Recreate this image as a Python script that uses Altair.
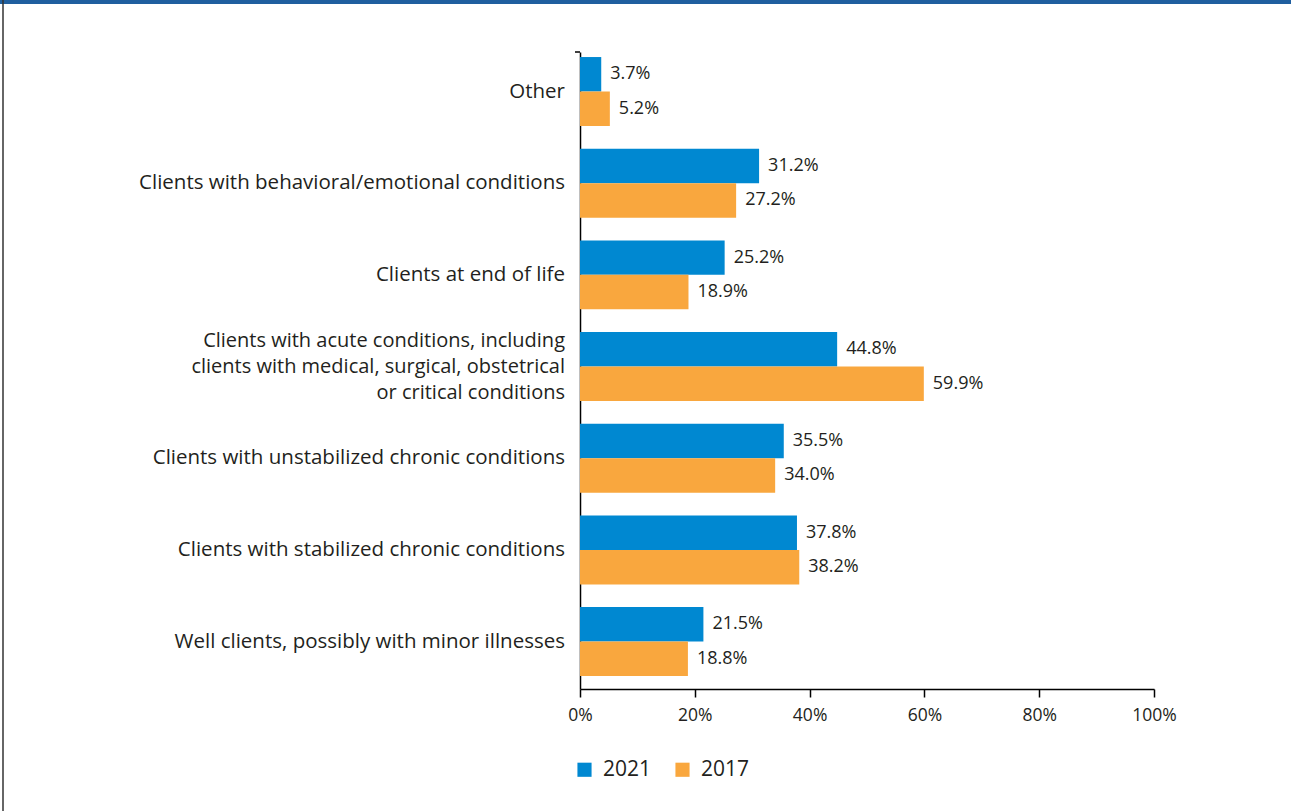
import altair as alt
import pandas as pd

categories = [
    "Other",
    "Clients with behavioral/emotional conditions",
    "Clients at end of life",
    "Clients with acute conditions, including|clients with medical, surgical, obstetrical|or critical conditions",
    "Clients with unstabilized chronic conditions",
    "Clients with stabilized chronic conditions",
    "Well clients, possibly with minor illnesses",
]
values_2021 = [3.7, 31.2, 25.2, 44.8, 35.5, 37.8, 21.5]
values_2017 = [5.2, 27.2, 18.9, 59.9, 34.0, 38.2, 18.8]
years = ["2021", "2017"]
x_ticks = [0, 20, 40, 60, 80, 100]

rows = []
for c, a, b in zip(categories, values_2021, values_2017):
    rows.append({"cat": c, "year": "2021", "value": a})
    rows.append({"cat": c, "year": "2017", "value": b})
df = pd.DataFrame(rows)
cat_df = pd.DataFrame({"cat": categories, "nlines": [c.count("|") + 1 for c in categories]})

FONT = "Open Sans"
TXT = "#231f20"
color_scale = alt.Scale(domain=years, range=["#0088d1", "#f9a73e"])
y_scale = alt.Scale(paddingInner=0.248, paddingOuter=0.098, align=0.28)

y_enc = alt.Y(
    "cat:N",
    sort=categories,
    scale=y_scale,
    axis=alt.Axis(
        title=None,
        labels=False,
        ticks=False,
        domainColor="#000000",
        domainWidth=1.5,
    ),
)
yoff = alt.YOffset("year:N", sort=years)

bars = alt.Chart(df).mark_bar().encode(
    x=alt.X(
        "value:Q",
        scale=alt.Scale(domain=[0, 100], nice=False),
        axis=alt.Axis(
            title=None,
            values=x_ticks,
            labelExpr="datum.value + '%'",
            labelFlush=False,
            labelFontSize=17.5,
            labelFont=FONT,
            labelColor=TXT,
            labelPadding=9,
            tickSize=8,
            tickColor="#000000",
            tickWidth=1.5,
            domainColor="#000000",
            domainWidth=1.5,
            grid=False,
        ),
    ),
    y=y_enc,
    yOffset=yoff,
    color=alt.Color(
        "year:N",
        scale=color_scale,
        sort=years,
        legend=alt.Legend(
            title=None,
            orient="none",
            direction="horizontal",
            legendX=-6,
            legendY=707,
            symbolType="square",
            symbolSize=200,
            symbolStrokeWidth=0,
            labelFontSize=21,
            labelFont=FONT,
            labelColor=TXT,
            columnPadding=20,
            labelOffset=8,
        ),
    ),
)

labels = alt.Chart(df).transform_calculate(
    lbl="format(datum.value, '.1f') + '%'"
).mark_text(
    align="left", baseline="middle", dx=9, fontSize=18, font=FONT, color=TXT
).encode(
    x="value:Q",
    y=alt.Y("cat:N", sort=categories),
    yOffset=yoff,
    text="lbl:N",
)

cat_base = alt.Chart(cat_df).encode(
    x=alt.value(-15),
    y=alt.Y("cat:N", sort=categories),
    text="cat:N",
)
cat_single = cat_base.transform_filter("datum.nlines == 1").mark_text(
    align="right", baseline="middle", fontSize=20.5, font=FONT, color=TXT
)
cat_multi = cat_base.transform_filter("datum.nlines == 3").mark_text(
    align="right", baseline="middle", fontSize=20, font=FONT, color=TXT,
    lineBreak="|", lineHeight=26, dy=-26
)

topband = alt.Chart(pd.DataFrame({"a": [0]})).mark_rule(
    color="#1f5f9f", strokeWidth=4, clip=False
).encode(x=alt.value(-580), x2=alt.value(711), y=alt.value(-50))
leftline = alt.Chart(pd.DataFrame({"a": [0]})).mark_rule(
    color="#333333", strokeWidth=1.5, clip=False
).encode(x=alt.value(-577), y=alt.value(-52), y2=alt.value(759))
toptick = alt.Chart(pd.DataFrame({"a": [0]})).mark_rule(
    color="#000000", strokeWidth=1.5, clip=False
).encode(x=alt.value(-5), x2=alt.value(0), y=alt.value(0))

chart = (
    alt.layer(topband, leftline, bars, labels, cat_single, cat_multi, toptick)
    .properties(
        width=574,
        height=637,
        autosize=alt.AutoSizeParams(type="none"),
        padding={"left": 580, "top": 52, "right": 137, "bottom": 122},
        background="white",
    )
    .configure_view(stroke=None)
)

chart.save("out.html", embed_options={"renderer": "svg", "actions": False})
